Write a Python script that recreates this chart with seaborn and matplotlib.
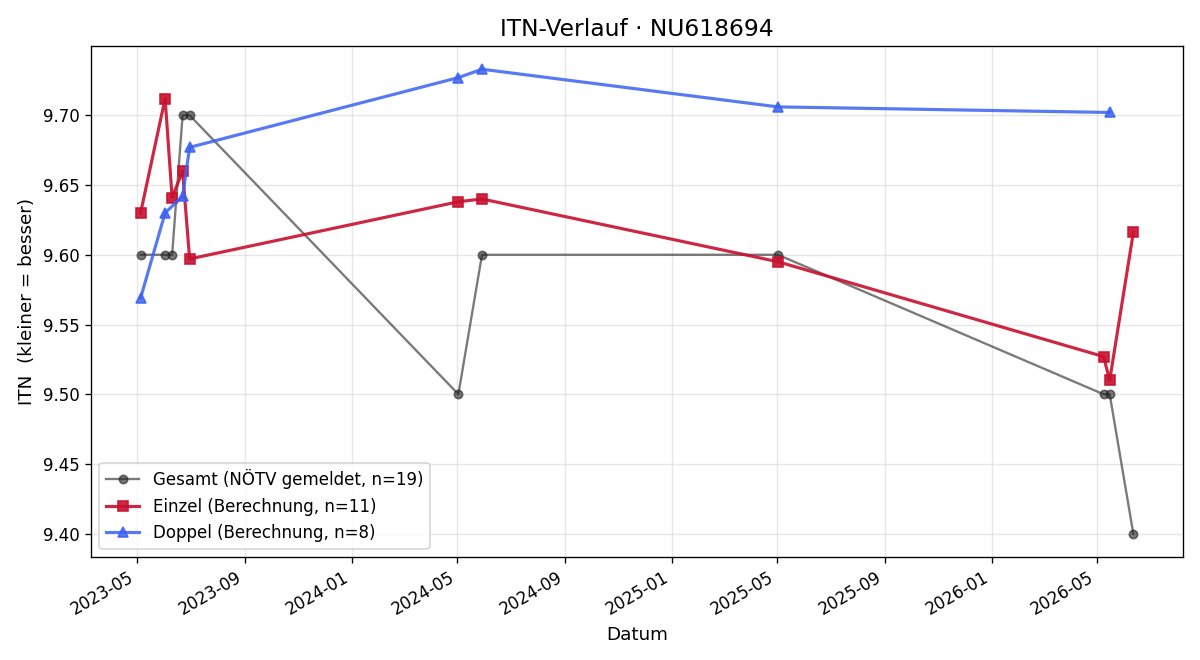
import pandas as pd
import matplotlib
matplotlib.use("Agg")
import matplotlib.pyplot as plt
import matplotlib.dates as mdates
import seaborn as sns

# ITN history per series (dates)
gesamt_dates = ["2023-05-05", "2023-06-02", "2023-06-10", "2023-06-22", "2023-06-30",
                "2024-05-02", "2024-05-29", "2025-05-02", "2026-05-09", "2026-05-16",
                "2026-06-12"]
gesamt_itn = [9.60, 9.60, 9.60, 9.70, 9.70, 9.50, 9.60, 9.60, 9.50, 9.50, 9.40]

einzel_dates = ["2023-05-05", "2023-06-02", "2023-06-10", "2023-06-22", "2023-06-30",
                "2024-05-02", "2024-05-29", "2025-05-02", "2026-05-09", "2026-05-16",
                "2026-06-12"]
einzel_itn = [9.630, 9.712, 9.641, 9.660, 9.597, 9.638, 9.640, 9.595, 9.527, 9.510, 9.616]

doppel_dates = ["2023-05-05", "2023-06-02", "2023-06-22", "2023-06-30",
                "2024-05-02", "2024-05-29", "2025-05-02", "2026-05-16"]
doppel_itn = [9.569, 9.630, 9.642, 9.677, 9.727, 9.733, 9.706, 9.702]

labels = ["Gesamt (NÖTV gemeldet, n=19)",
          "Einzel (Berechnung, n=11)",
          "Doppel (Berechnung, n=8)"]

gesamt = pd.DataFrame({"Datum": pd.to_datetime(gesamt_dates), "ITN": gesamt_itn})
einzel = pd.DataFrame({"Datum": pd.to_datetime(einzel_dates), "ITN": einzel_itn})
doppel = pd.DataFrame({"Datum": pd.to_datetime(doppel_dates), "ITN": doppel_itn})

fig, ax = plt.subplots(figsize=(10, 5.5), dpi=120)

sns.lineplot(data=gesamt, x="Datum", y="ITN", ax=ax, sort=False, label=labels[0],
             color="#222222", alpha=0.6, linewidth=1.4, marker="o", markersize=5,
             markeredgecolor="#222222", markeredgewidth=1)
sns.lineplot(data=einzel, x="Datum", y="ITN", ax=ax, sort=False, label=labels[1],
             color="#c8102e", alpha=0.9, linewidth=1.9, marker="s", markersize=6.5,
             markeredgecolor="#c8102e", markeredgewidth=1)
sns.lineplot(data=doppel, x="Datum", y="ITN", ax=ax, sort=False, label=labels[2],
             color="#3a62f2", alpha=0.85, linewidth=1.9, marker="^", markersize=6.5,
             markeredgecolor="#3a62f2", markeredgewidth=1)

ax.set_title("ITN-Verlauf · NU618694", fontsize=14)
ax.set_xlabel("Datum", fontsize=11)
ax.set_ylabel("ITN  (kleiner = besser)", fontsize=11)
ax.grid(True, alpha=0.3)
ax.xaxis.set_major_locator(mdates.MonthLocator(bymonth=[1, 5, 9]))
ax.xaxis.set_major_formatter(mdates.DateFormatter("%Y-%m"))
ax.legend(loc="lower left")
fig.autofmt_xdate()

# match the reference axes box
fig.subplots_adjust(left=0.0758, right=0.9858, top=0.9303, bottom=0.1561)
plt.savefig("out.png", dpi=120)
plt.close()
